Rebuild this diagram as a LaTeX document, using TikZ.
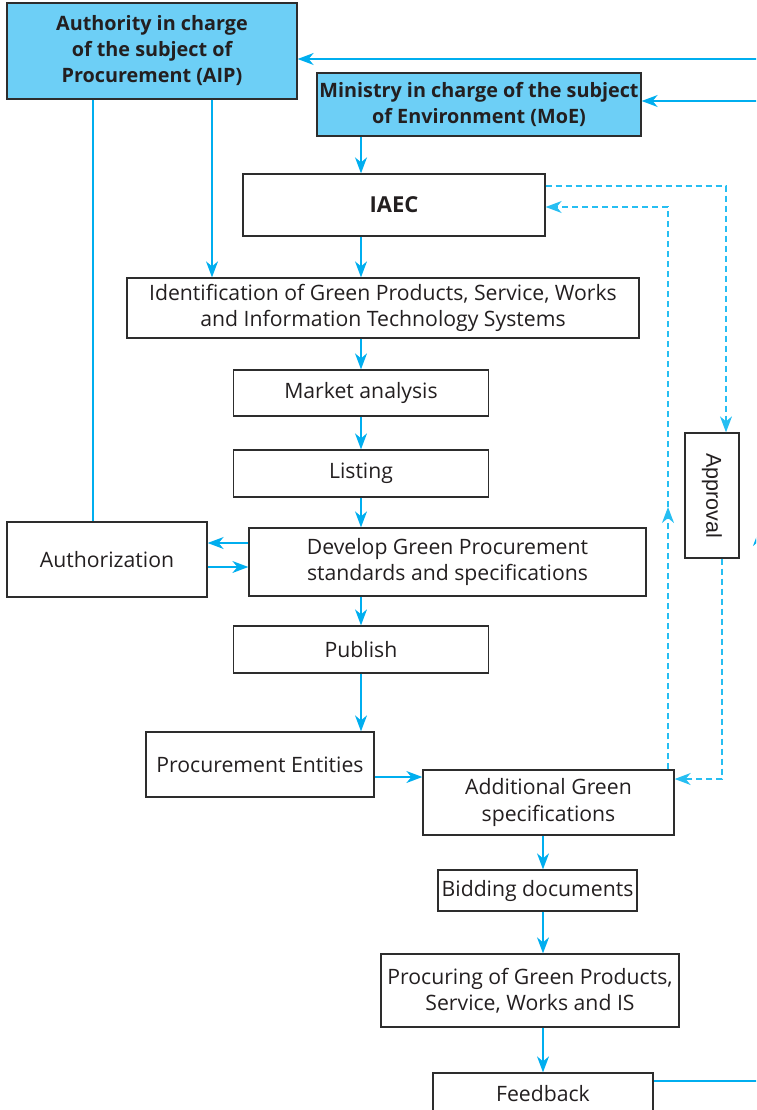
\documentclass[tikz,border=0pt]{standalone}
\usepackage{fontspec}
\setmainfont{Open Sans}
\newfontfamily\approvalfont{Liberation Sans}
\usepackage{xcolor}
\usepackage{tikz}
\usetikzlibrary{arrows.meta}

\definecolor{flowblue}{RGB}{0,174,239}
\definecolor{dashblue}{RGB}{38,190,242}
\definecolor{headblue}{RGB}{109,207,246}
\definecolor{boxgray}{RGB}{45,45,45}
\definecolor{textgray}{RGB}{35,31,32}

\begin{document}
\begin{tikzpicture}[x=1pt,y=-1pt,
    box/.style={draw=boxgray, line width=1.3pt, inner sep=0pt, align=center,
                text=textgray, font=\fontsize{21.2}{26.5}\selectfont},
    headbox/.style={box, fill=headblue, font=\fontsize{19.8}{26}\selectfont\bfseries},
    flow/.style={draw=flowblue, line width=1.4pt,
                 -{Stealth[length=16pt,width=12pt,inset=5pt]}},
    plainflow/.style={draw=flowblue, line width=1.4pt},
    dashflow/.style={draw=dashblue, line width=1.4pt, dash pattern=on 6pt off 4pt,
                 -{Stealth[length=16pt,width=12pt,inset=5pt]}},
    plaindash/.style={draw=dashblue, line width=1.4pt, dash pattern=on 6pt off 4pt}]
\clip (0,0) rectangle (756,1110);

    % the two authorities
    \node[headbox, minimum width=290pt, minimum height=96pt] (aip) at (152,51)
        {Authority in charge\\of the subject of\\Procurement (AIP)};
    \node[headbox, minimum width=324pt, minimum height=63pt] (moe) at (479,104.5)
        {Ministry in charge of the subject\\of Environment (MoE)};

    % main column
    \node[box, minimum width=302pt, minimum height=62pt, font=\fontsize{22}{26}\selectfont\bfseries] (iaec) at (394,205) {IAEC};
    \node[box, minimum width=512pt, minimum height=60pt] (ident) at (383,308)
        {Identification of Green Products, Service, Works\\and Information Technology Systems};
    \node[box, minimum width=255pt, minimum height=46pt] (market) at (361,393) {Market analysis};
    \node[box, minimum width=255pt, minimum height=47pt] (listing) at (361,473.5) {Listing};
    \node[box, minimum width=397pt, minimum height=68pt] (develop) at (447.5,562)
        {Develop Green Procurement\\standards and specifications};
    \node[box, minimum width=200pt, minimum height=75pt] (auth) at (107,559.5) {Authorization};
    \node[box, minimum width=255pt, minimum height=47pt] (publish) at (361,649.5) {Publish};
    \node[box, minimum width=228pt, minimum height=65pt] (entities) at (260,764.5) {Procurement Entities};
    \node[box, minimum width=251pt, minimum height=65pt] (additional) at (548.5,802.5)
        {Additional Green\\specifications};
    \node[box, minimum width=199pt, minimum height=41pt] (bidding) at (537.5,890.5) {Bidding documents};
    \node[box, minimum width=298pt, minimum height=73pt] (procuring) at (530,990.5)
        {Procuring of Green Products,\\Service, Works and IS};
    \node[box, minimum width=220pt, minimum height=42pt] (feedback) at (543,1094) {Feedback};
    \node[box, minimum width=54pt, minimum height=125pt, font=\approvalfont\fontsize{21.5}{26}\selectfont] (approval) at (712,495.5)
        {\rotatebox{-90}{Approval}};

    % loop on the right edge
    \coordinate (fbR) at (759,1081);
    \coordinate (midR) at (759,530);
    \coordinate (topR) at (759,59);
    \coordinate (moeR) at (759,101);
    \draw[plainflow] ([yshift=13pt]feedback.east) -- (fbR);
    \draw[flow] (fbR) -- (midR);
    \draw[plainflow] (midR) -- (topR);
    \draw[flow] (topR) -- (topR -| aip.east);
    \draw[flow] (moeR) -- (moeR -| moe.east);

    % draw the arrows
    \draw[flow] ([xshift=60pt]aip.south) -- ([xshift=60pt]aip.south |- ident.north);
    \draw[plainflow] ([xshift=-59pt]aip.south) -- ([xshift=-59pt]aip.south |- auth.north);
    \draw[flow] (moe.south -| market) -- (iaec.north -| market);
    \draw[flow] (iaec.south -| market) -- (ident.north -| market);
    \draw[flow] (ident.south -| market) -- (market.north);
    \draw[flow] (market.south) -- (listing.north);
    \draw[flow] (listing.south) -- (develop.north -| listing);
    \draw[flow] (develop.south -| publish) -- (publish.north);
    \draw[flow] (publish.south) -- (entities.north -| publish);
    \draw[flow] ([yshift=19pt]develop.west) -- ([yshift=19pt]develop.west -| auth.east);
    \draw[flow] ([yshift=-5pt]develop.west -| auth.east) -- ([yshift=-5pt]develop.west);
    \draw[flow] ([yshift=-12.5pt]entities.east) -- ([yshift=-12.5pt]entities.east -| additional.west);
    \draw[flow] (additional.south -| feedback) -- (bidding.north -| feedback);
    \draw[flow] (bidding.south -| feedback) -- (procuring.north -| feedback);
    \draw[flow] (procuring.south -| feedback) -- (feedback.north);

    % dashed approval loop
    \coordinate (upmid) at (668,507);
    \draw[dashflow] ([yshift=19pt]iaec.east) -| ([xshift=14pt]approval.north);
    \draw[dashflow] ([xshift=10pt]approval.south) |- ([yshift=23.5pt]additional.east);
    \draw[dashflow] ([xshift=119.5pt]additional.north) -- (upmid);
    \draw[dashflow] (upmid) |- ([yshift=-2pt]iaec.east);

\end{tikzpicture}
\end{document}
